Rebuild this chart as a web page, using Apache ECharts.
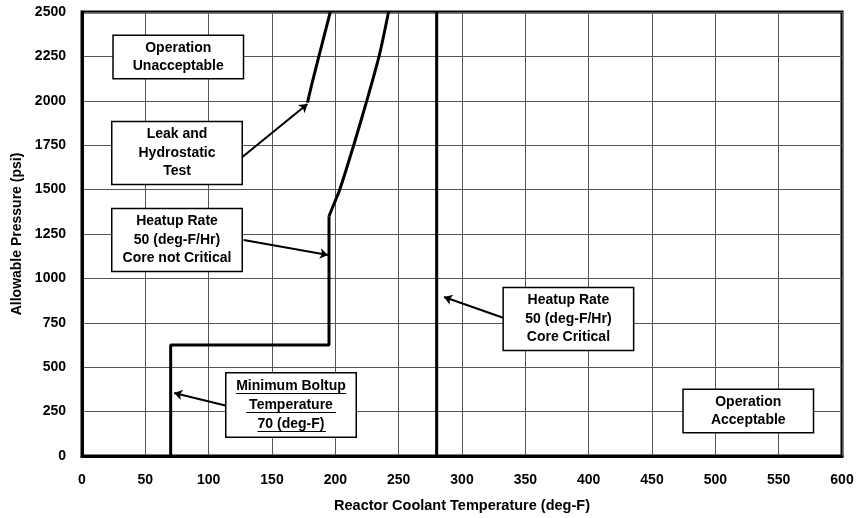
<!DOCTYPE html>
<html><head><meta charset="utf-8">
<script src="https://cdn.jsdelivr.net/npm/echarts@6/dist/echarts.min.js"></script>
<style>html,body{margin:0;padding:0;background:#fff}#c{width:861px;height:518px}</style>
</head><body><div id="c"></div>
<script>
// Data (temperature deg-F, pressure psi)
const xTicks = [0,50,100,150,200,250,300,350,400,450,500,550,600];
const yTicks = [0,250,500,750,1000,1250,1500,1750,2000,2250,2500];
const heatupStep = [[70,0],[70,625],[195,625],[195,1350]];
const heatupCurve = [[195,1350],[197.5,1395],[203.5,1500],[214.5,1750],[224.8,2000],[234.5,2250],[242,2500]];
const leakTest = [[178,1990],[182,2110],[187,2250],[191.5,2375],[196,2500]];
const heatupCritical = [[280,0],[280,2500]];
const boxLabels = [
  {name:'Operation\nUnacceptable', pos:[76,2247], lh:18},
  {name:'Leak and\nHydrostatic\nTest', pos:[75,1706], lh:18.5},
  {name:'Heatup Rate\n50 (deg-F/Hr)\nCore not Critical', pos:[75,1216], lh:18.5},
  {name:'Minimum Boltup\nTemperature\n70 (deg-F)', pos:[165,287], lh:19},
  {name:'Heatup Rate\n50 (deg-F/Hr)\nCore Critical', pos:[384,771], lh:18.5},
  {name:'Operation\nAcceptable', pos:[526,253], lh:18}
];
const arrows = [
  [[126.6,1683],[178,1982]],
  [[127.6,1216],[194.2,1132]],
  [[114.8,282],[72.8,355]],
  [[333,777],[285.8,895]]
];
const underlines = [
  [[121.5,355],[208.5,355]],
  [[129.5,248],[200.5,248]],
  [[138.5,141],[192.5,141]]
];

const chart = echarts.init(document.getElementById('c'));
const F = 'Liberation Sans, Arial, sans-serif';
const boxSeries = boxLabels.map(b => ({
  type:'scatter', symbolSize:0, silent:true, z:10, itemStyle:{opacity:1},
  data:[b.pos],
  label:{show:true, position:'inside', formatter:b.name, color:'#000',
    fontFamily:F, fontWeight:'bold', fontSize:14, lineHeight:b.lh, align:'center',
    width:121, padding:[3,4], backgroundColor:'#fff', borderColor:'#000', borderWidth:1.5}
}));
chart.setOption({
  animation:false,
  grid:{left:82, right:19, top:12, bottom:62, show:true, borderColor:'#000', borderWidth:3},
  xAxis:{type:'value', min:0, max:600, interval:50,
    name:'Reactor Coolant Temperature (deg-F)', nameLocation:'middle', nameGap:42,
    nameTextStyle:{fontFamily:F, fontWeight:'bold', fontSize:14.5, color:'#000'},
    axisLine:{lineStyle:{color:'#000', width:3}}, axisTick:{show:false},
    axisLabel:{fontFamily:F, fontWeight:'bold', fontSize:14, color:'#000', margin:17,
      formatter:v=> xTicks.includes(v)? String(v):''},
    splitLine:{lineStyle:{color:'#555', width:1}}},
  yAxis:{type:'value', min:0, max:2500, interval:250,
    name:'Allowable Pressure (psi)', nameLocation:'middle', nameGap:54,
    nameTextStyle:{fontFamily:F, fontWeight:'bold', fontSize:14, color:'#000'},
    axisLine:{lineStyle:{color:'#000', width:3}}, axisTick:{show:false},
    axisLabel:{fontFamily:F, fontWeight:'bold', fontSize:14, color:'#000', margin:16,
      formatter:v=> yTicks.includes(v)? String(v):''},
    splitLine:{lineStyle:{color:'#555', width:1}}},
  series:[
    {type:'line', data:heatupStep, symbol:'none', lineStyle:{color:'#000', width:3}, z:5},
    {type:'line', data:heatupCurve, symbol:'none', smooth:0.3, lineStyle:{color:'#000', width:3}, z:5},
    {type:'line', data:leakTest, symbol:'none', smooth:0.3, lineStyle:{color:'#000', width:3}, z:5},
    {type:'line', data:heatupCritical, symbol:'none', lineStyle:{color:'#000', width:3}, z:5},
    {type:'lines', coordinateSystem:'cartesian2d', z:6, symbol:['none','arrow'], symbolSize:8,
      lineStyle:{color:'#000', width:2, opacity:1},
      data:arrows.map(a=>({coords:a}))},
    ...boxSeries,
    {type:'lines', coordinateSystem:'cartesian2d', z:20, symbol:'none',
      lineStyle:{color:'#000', width:1.2, opacity:1},
      data:underlines.map(a=>({coords:a}))}
  ]
});
</script></body></html>
